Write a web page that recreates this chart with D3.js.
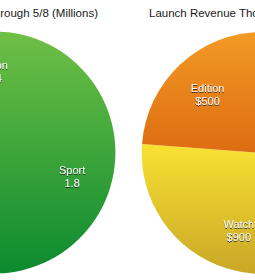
<!DOCTYPE html>
<head>
  <meta charset="utf-8">
  <style>
    body {margin: 0; background: #fff;}
    svg {display: block; font-family: "Liberation Sans", Arial, Helvetica, sans-serif;}
    .title {font-size: 11.5px; fill: #1a1a1a;}
    .label {font-size: 11px; fill: #f6f6f6; text-anchor: middle;}
  </style>
  <title>Apple Watch</title>
</head>
<body>
  <svg width="255" height="280"></svg>

  <script src="https://cdn.jsdelivr.net/npm/d3@7"></script>
  <script>
    // data
    var models = ["Sport", "Watch", "Edition"];
    var unitsSold = [1.8, 1.2, 0.04];          // millions, through 5/8
    var revenue = [700, 900, 500];             // launch revenue, $ millions
    var titles = ["Apple Watch Sales Through 5/8 (Millions)", "Launch Revenue Though 5/8 (Millions)"];

    // colour pairs (top, bottom) for each model's gradient
    var colorTop = {Sport: "#6fc046", Watch: "#f9e233", Edition: "#f39a25"};
    var colorBottom = {Sport: "#0c8a2f", Watch: "#c9a626", Edition: "#dd6c12"};

    var svg = d3.select("svg"),
        radius = 121;

    var defs = svg.append("defs");

    models.forEach(function(m) {
      var g = defs.append("linearGradient")
          .attr("id", "grad-" + m)
          .attr("x1", 0).attr("y1", 0).attr("x2", 0).attr("y2", 1);
      g.append("stop").attr("offset", "0%").attr("stop-color", colorTop[m]);
      g.append("stop").attr("offset", "100%").attr("stop-color", colorBottom[m]);
    });

    var shadow = defs.append("filter")
        .attr("id", "shadow")
        .attr("x", "-20%").attr("y", "-30%").attr("width", "140%").attr("height", "160%");
    shadow.append("feDropShadow")
        .attr("dx", 0).attr("dy", 1)
        .attr("stdDeviation", 0.7)
        .attr("flood-color", "#222")
        .attr("flood-opacity", 0.85);

    var pie = d3.pie().sort(null).value(function(d) { return d.value; });
    var arc = d3.arc().innerRadius(0).outerRadius(radius);
    var labelArc = d3.arc().innerRadius(radius * 0.67).outerRadius(radius * 0.67);

    var charts = [
      {title: titles[0], cx: -5.6, cy: 152.5, tx: 98, anchor: "end",
       values: unitsSold, fmt: function(v) { return String(v); }},
      {title: titles[1], cx: 262.7, cy: 153, tx: 149, anchor: "start",
       values: revenue, fmt: function(v) { return "$" + v; }}
    ];

    charts.forEach(function(c) {
      var data = models.map(function(m, i) { return {model: m, value: c.values[i]}; });

      svg.append("text")
          .attr("class", "title")
          .attr("x", c.tx)
          .attr("y", 17)
          .attr("text-anchor", c.anchor)
          .text(c.title);

      var g = svg.append("g")
          .attr("transform", "translate(" + c.cx + "," + c.cy + ")");

      var slices = pie(data);

      g.selectAll("path")
          .data(slices)
        .enter().append("path")
          .attr("d", arc)
          .attr("fill", function(d) { return "url(#grad-" + d.data.model + ")"; });

      var labels = g.selectAll("text")
          .data(slices)
        .enter().append("text")
          .attr("class", "label")
          .attr("filter", "url(#shadow)")
          .attr("transform", function(d) { return "translate(" + labelArc.centroid(d) + ")"; });

      labels.append("tspan")
          .attr("x", 0).attr("y", -2)
          .text(function(d) { return d.data.model; });
      labels.append("tspan")
          .attr("x", 0).attr("y", 11)
          .text(function(d) { return c.fmt(d.data.value); });
    });
  </script>
</body>
